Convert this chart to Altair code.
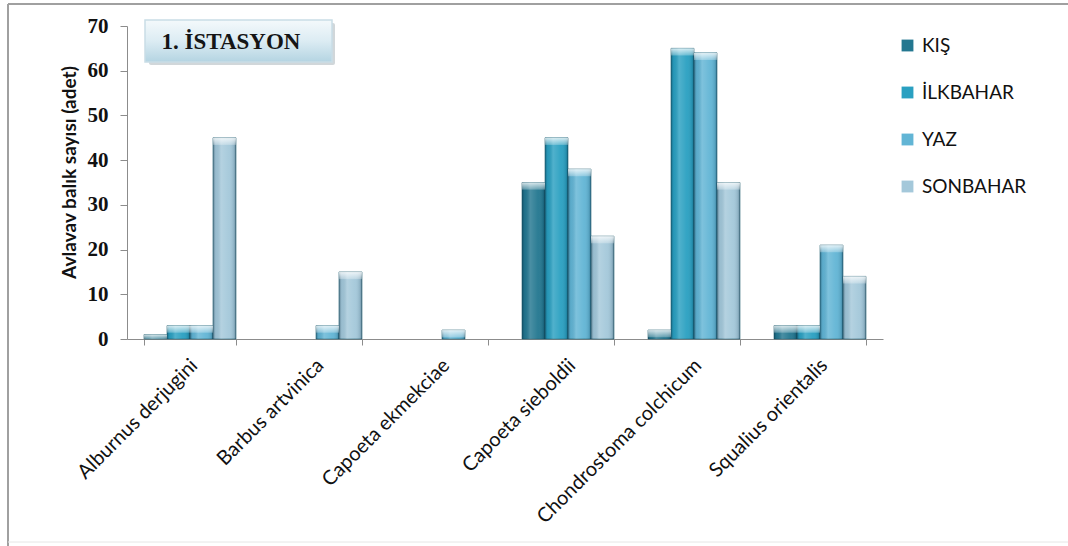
import altair as alt
import pandas as pd

# Fish counts per species and season (station 1)
species = [
    "Alburnus derjugini",
    "Barbus artvinica",
    "Capoeta ekmekciae",
    "Capoeta sieboldii",
    "Chondrostoma colchicum",
    "Squalius orientalis",
]
seasons = ["KIŞ", "İLKBAHAR", "YAZ", "SONBAHAR"]
kis = [1, 0, 0, 35, 2, 3]
ilkbahar = [3, 0, 0, 45, 65, 3]
yaz = [3, 3, 2, 38, 64, 21]
sonbahar = [45, 15, 0, 23, 35, 14]
y_ticks = [0, 10, 20, 30, 40, 50, 60, 70]

season_colors = ["#237790", "#2aa0c1", "#62b5d5", "#a4c8da"]

rows = []
for season, vals in zip(seasons, [kis, ilkbahar, yaz, sonbahar]):
    for sp, v in zip(species, vals):
        rows.append({"tür": sp, "mevsim": season, "adet": v})
df = pd.DataFrame(rows)

W, H = 756, 313
SANS = "Lato"
SERIF = "Liberation Serif"

x_axis = alt.Axis(
    title=None,
    labelAngle=-45,
    labelAlign="right",
    labelBaseline="middle",
    labelFont=SANS,
    labelFontSize=20,
    labelColor="#111111",
    labelPadding=17,
    labelOffset=4,
    labelLimit=400,
    tickBand="extent",
    tickSize=6,
    tickColor="#8c8c8c",
    domainColor="#8c8c8c",
)
y_axis = alt.Axis(
    values=y_ticks,
    grid=False,
    title="Avlavav balık sayısı (adet)",
    titleFont=SANS,
    titleFontSize=19,
    titleFontWeight="bold",
    titleColor="#111111",
    titleAngle=-90,
    titleX=-58,
    titleY=146,
    titleAlign="center",
    titleBaseline="middle",
    labelFont=SERIF,
    labelFontSize=21,
    labelFontWeight="bold",
    labelColor="#111111",
    labelPadding=12,
    tickSize=7,
    tickColor="#8c8c8c",
    domainColor="#8c8c8c",
)

x_enc = alt.X(
    "tür:N", sort=species,
    scale=alt.Scale(domain=species, paddingInner=0.27, paddingOuter=0.135),
    axis=x_axis,
)
xoff_enc = alt.XOffset(
    "mevsim:N", sort=seasons,
    scale=alt.Scale(domain=seasons, paddingInner=0, paddingOuter=0),
)
y_enc = alt.Y("adet:Q", scale=alt.Scale(domain=[0, 70], nice=False), axis=y_axis)

bars_src = alt.Chart(df).transform_filter("datum.adet > 0")

# Solid season-coloured bars, also feeding the legend
base = bars_src.mark_bar(stroke="#1c5a6c", strokeWidth=1, strokeOpacity=0.6).encode(
    x=x_enc,
    xOffset=xoff_enc,
    y=y_enc,
    color=alt.Color(
        "mevsim:N",
        sort=seasons,
        scale=alt.Scale(domain=seasons, range=season_colors),
        legend=alt.Legend(
            title=None,
            orient="none",
            legendX=771,
            legendY=10,
            symbolType="square",
            symbolSize=140,
            symbolStrokeWidth=0,
            labelFont=SANS,
            labelFontSize=19,
            labelColor="#111111",
            labelOffset=5,
            rowPadding=27,
        ),
    ),
)

# Cylindrical shading across each bar
shade = bars_src.mark_bar().encode(
    x=x_enc,
    xOffset=xoff_enc,
    y=y_enc,
    color=alt.value({
        "gradient": "linear", "x1": 0, "x2": 1, "y1": 0, "y2": 0,
        "stops": [
            {"offset": 0.0, "color": "rgba(0,35,55,0.4)"},
            {"offset": 0.12, "color": "rgba(0,35,55,0.06)"},
            {"offset": 0.35, "color": "rgba(255,255,255,0.18)"},
            {"offset": 0.7, "color": "rgba(255,255,255,0.04)"},
            {"offset": 0.92, "color": "rgba(0,35,55,0.14)"},
            {"offset": 1.0, "color": "rgba(0,35,55,0.45)"},
        ],
    }),
)

# Light bevel at the top of each bar
cap = bars_src.transform_calculate(cap_lo="max(datum.adet - 1.6, 0)").mark_bar().encode(
    x=x_enc,
    xOffset=xoff_enc,
    y=y_enc,
    y2="cap_lo:Q",
    color=alt.value({
        "gradient": "linear", "x1": 0, "x2": 0, "y1": 0, "y2": 1,
        "stops": [
            {"offset": 0.0, "color": "rgba(255,255,255,0.8)"},
            {"offset": 1.0, "color": "rgba(255,255,255,0.25)"},
        ],
    }),
)

one = alt.Data(values=[{"k": 1}])

# Outer frame of the chart
frame_top = alt.Chart(one).mark_rule(color="#a0a0a0", strokeWidth=2).encode(
    x=alt.value(-119), x2=alt.value(941), y=alt.value(-22)
)
frame_left = alt.Chart(one).mark_rule(color="#a0a0a0", strokeWidth=2).encode(
    x=alt.value(-119), y=alt.value(-22), y2=alt.value(520)
)
frame_bottom = alt.Chart(one).mark_rule(color="#e6e6e6", strokeWidth=1).encode(
    x=alt.value(-119), x2=alt.value(941), y=alt.value(516)
)

# Station label box
box_shadow = alt.Chart(one).mark_rect(color="#9aa7ad", opacity=0.45, cornerRadius=2).encode(
    x=alt.value(22), x2=alt.value(208), y=alt.value(-3), y2=alt.value(39)
)
box = alt.Chart(one).mark_rect(
    stroke="#c9dde6", strokeWidth=1.5,
    color={
        "gradient": "linear", "x1": 0, "x2": 0, "y1": 0, "y2": 1,
        "stops": [
            {"offset": 0.0, "color": "#f4f9fb"},
            {"offset": 0.5, "color": "#dcecf3"},
            {"offset": 1.0, "color": "#b4d4e2"},
        ],
    },
).encode(x=alt.value(18), x2=alt.value(205), y=alt.value(-6), y2=alt.value(36))
box_text = alt.Chart(one).mark_text(
    font=SERIF, fontSize=23, fontWeight="bold", color="#151515", align="center", baseline="middle"
).encode(x=alt.value(104), y=alt.value(16), text=alt.value("1. İSTASYON"))

chart = alt.layer(
    frame_top, frame_left, frame_bottom,
    base, shade, cap,
    box_shadow, box, box_text,
).properties(
    width=W,
    height=H,
    padding={"left": 127, "top": 26, "right": 185, "bottom": 207},
    autosize=alt.AutoSizeParams(type="none"),
    background="white",
).configure_view(stroke=None)

chart.save("out.html", embed_options={"renderer": "svg", "actions": False})
